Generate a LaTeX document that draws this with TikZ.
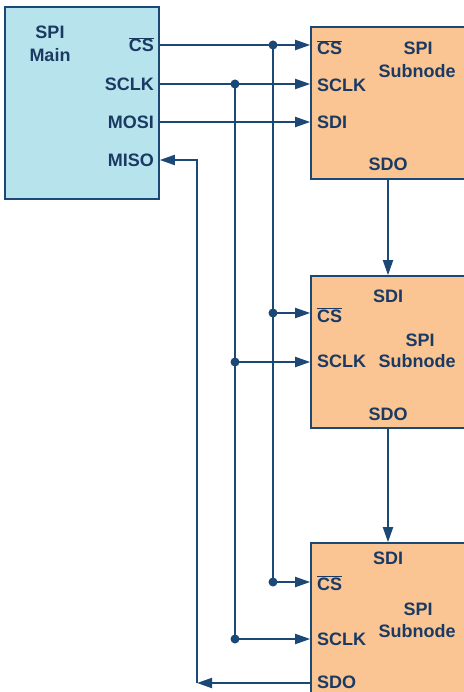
\documentclass[tikz,border=0pt]{standalone}
\usepackage{fontspec}
\setmainfont{Liberation Sans}
\usetikzlibrary{arrows.meta}
\definecolor{spiline}{HTML}{1C4875}
\definecolor{spitext}{HTML}{1B3A63}
\definecolor{mainfill}{HTML}{B7E4EC}
\definecolor{subfill}{HTML}{FAC592}
\newcommand{\nCS}{$\overline{\hbox{CS}}$}

\begin{document}
\begin{tikzpicture}[x=1pt, y=-1pt,
    box/.style={draw=spiline, line width=1.6pt, inner sep=0pt},
    lbl/.style={text=spitext, font=\fontsize{18}{22}\selectfont\bfseries, inner sep=0pt},
    sig/.style={draw=spiline, line width=1.9pt},
    arr/.style={sig, -{Triangle[length=15pt,width=10pt]}},
    tap/.style={circle, fill=spiline, inner sep=0pt, minimum size=9pt}
  ]
  \useasboundingbox (0,0) rectangle (463,692);

  \node[box, fill=mainfill, minimum width=154pt, minimum height=192pt] (main) at (82,103) {};
  \node[box, fill=subfill, minimum width=154pt, minimum height=152pt] (subA) at (388,103) {};
  \node[box, fill=subfill, minimum width=154pt, minimum height=152pt] (subB) at (388,352) {};
  \node[box, fill=subfill, minimum width=154pt, minimum height=160pt] (subC) at (388,623) {};

  \node[lbl, anchor=base] (mainSPI) at (50,39) {SPI};
  \node[lbl, anchor=base] (mainName) at (50,62) {Main};
  \foreach \n/\t/\y in {mCS/\nCS/52, mSCLK/SCLK/91, mMOSI/MOSI/129, mMISO/MISO/167} {
    \node[lbl, anchor=base east] (\n) at (154,\y) {\t};
  }

  \coordinate (csOut) at (main.east |- 0,45);
  \coordinate (sclkOut) at (main.east |- 0,84);
  \coordinate (mosiOut) at (main.east |- 0,122);
  \coordinate (misoIn) at (main.east |- 0,160);

  \node[tap] (tA1) at (273,45) {};
  \node[tap] (tA2) at (235,84) {};
  \node[tap] (tB1) at (273,313) {};
  \node[tap] (tB2) at (235,362) {};
  \node[tap] (tC1) at (273,582) {};
  \node[tap] (tC2) at (235,639) {};
  \coordinate (ret) at (197,683);

  \draw[arr] (csOut) -- (subA.west |- csOut);
  \draw[arr] (sclkOut) -- (subA.west |- sclkOut);
  \draw[arr] (mosiOut) -- (subA.west |- mosiOut);
  \draw[sig] (tA1.center) -- (tC1.center);
  \draw[sig] (tA2.center) -- (tC2.center);
  \draw[arr] (tB1.center) -- (subB.west |- tB1.center);
  \draw[arr] (tB2.center) -- (subB.west |- tB2.center);
  \draw[arr] (tC1.center) -- (subC.west |- tC1.center);
  \draw[arr] (tC2.center) -- (subC.west |- tC2.center);
  \draw[arr] (subA.south) -- (subB.north);
  \draw[arr] (subB.south) -- (subC.north);
  \draw[arr] (subC.west |- ret) -- (ret);
  \draw[arr] (ret) |- (misoIn);

  \node[lbl, anchor=base west] (aCS) at (317,55) {\nCS};
  \node[lbl, anchor=base west] (aSCLK) at (317,92) {SCLK};
  \node[lbl, anchor=base west] (aSDI) at (317,129) {SDI};
  \node[lbl, anchor=base] (aSPI) at (418,55) {SPI};
  \node[lbl, anchor=base] (aName) at (417,78) {Subnode};
  \node[lbl, anchor=base] (aSDO) at (388,171) {SDO};

  \node[lbl, anchor=base] (bSDI) at (388,302) {SDI};
  \node[lbl, anchor=base west] (bCS) at (317,322) {\nCS};
  \node[lbl, anchor=base] (bSPI) at (420,346) {SPI};
  \node[lbl, anchor=base] (bName) at (417,367) {Subnode};
  \node[lbl, anchor=base west] (bSCLK) at (317,367) {SCLK};
  \node[lbl, anchor=base] (bSDO) at (388,420) {SDO};

  \node[lbl, anchor=base] (cSDI) at (388,564) {SDI};
  \node[lbl, anchor=base west] (cCS) at (317,590) {\nCS};
  \node[lbl, anchor=base] (cSPI) at (418,615) {SPI};
  \node[lbl, anchor=base] (cName) at (417,637) {Subnode};
  \node[lbl, anchor=base west] (cSCLK) at (317,645) {SCLK};
  \node[lbl, anchor=base west] (cSDO) at (317,688) {SDO};
\end{tikzpicture}
\end{document}
